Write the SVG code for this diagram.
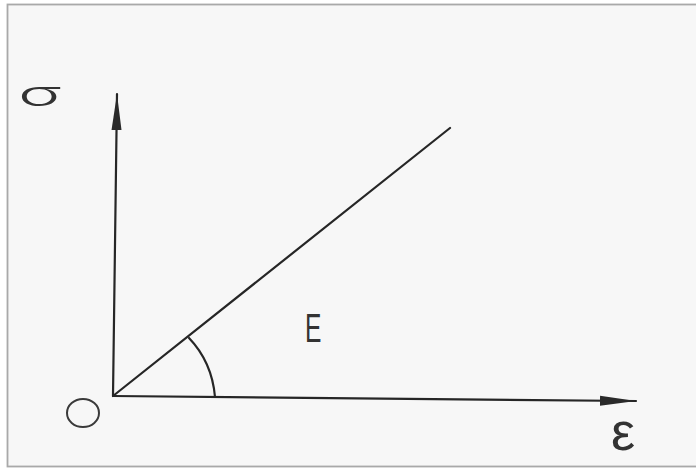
<svg xmlns="http://www.w3.org/2000/svg" width="696" height="469" viewBox="0 0 696 469">
<style>
.ln{stroke:#262626;stroke-width:2.2;fill:none;stroke-linecap:round}
.lbl{font-family:"Liberation Sans","DejaVu Sans",sans-serif;fill:#333}
.thin{font-family:Inter,"DejaVu Sans","Liberation Sans",sans-serif;font-weight:300;fill:#333}
</style>
<defs>
<marker id="ah" markerUnits="userSpaceOnUse" markerWidth="40" markerHeight="16" refX="36" refY="6.5" orient="auto">
<path d="M0,1.5 L36,6.5 L0,11.5 Z" fill="#2a2a2a"/>
</marker>
</defs>
<rect x="0" y="0" width="696" height="469" fill="#ffffff"/>
<rect x="7.5" y="4.5" width="700" height="462" fill="#f7f7f7" stroke="#a9a9a9" stroke-width="1.8"/>
<g id="axes">
<line class="ln" x1="113" y1="396" x2="117" y2="94" marker-end="url(#ah)"/>
<line class="ln" x1="113" y1="396" x2="636" y2="401" marker-end="url(#ah)"/>
<line class="ln" x1="113" y1="396" x2="450" y2="128"/>
<path class="ln" d="M189,338 Q212,362 215,397"/>
</g>
<ellipse cx="83" cy="413" rx="16" ry="14" fill="none" stroke="#3a3a3a" stroke-width="2"/>
<text class="thin" transform="translate(18,106) scale(1.7,0.8)" font-size="42">σ</text>
<text class="lbl" transform="translate(305,342) scale(0.6,1)" font-size="41">E</text>
<text class="lbl" x="611" y="450" font-size="54">ε</text>
</svg>
